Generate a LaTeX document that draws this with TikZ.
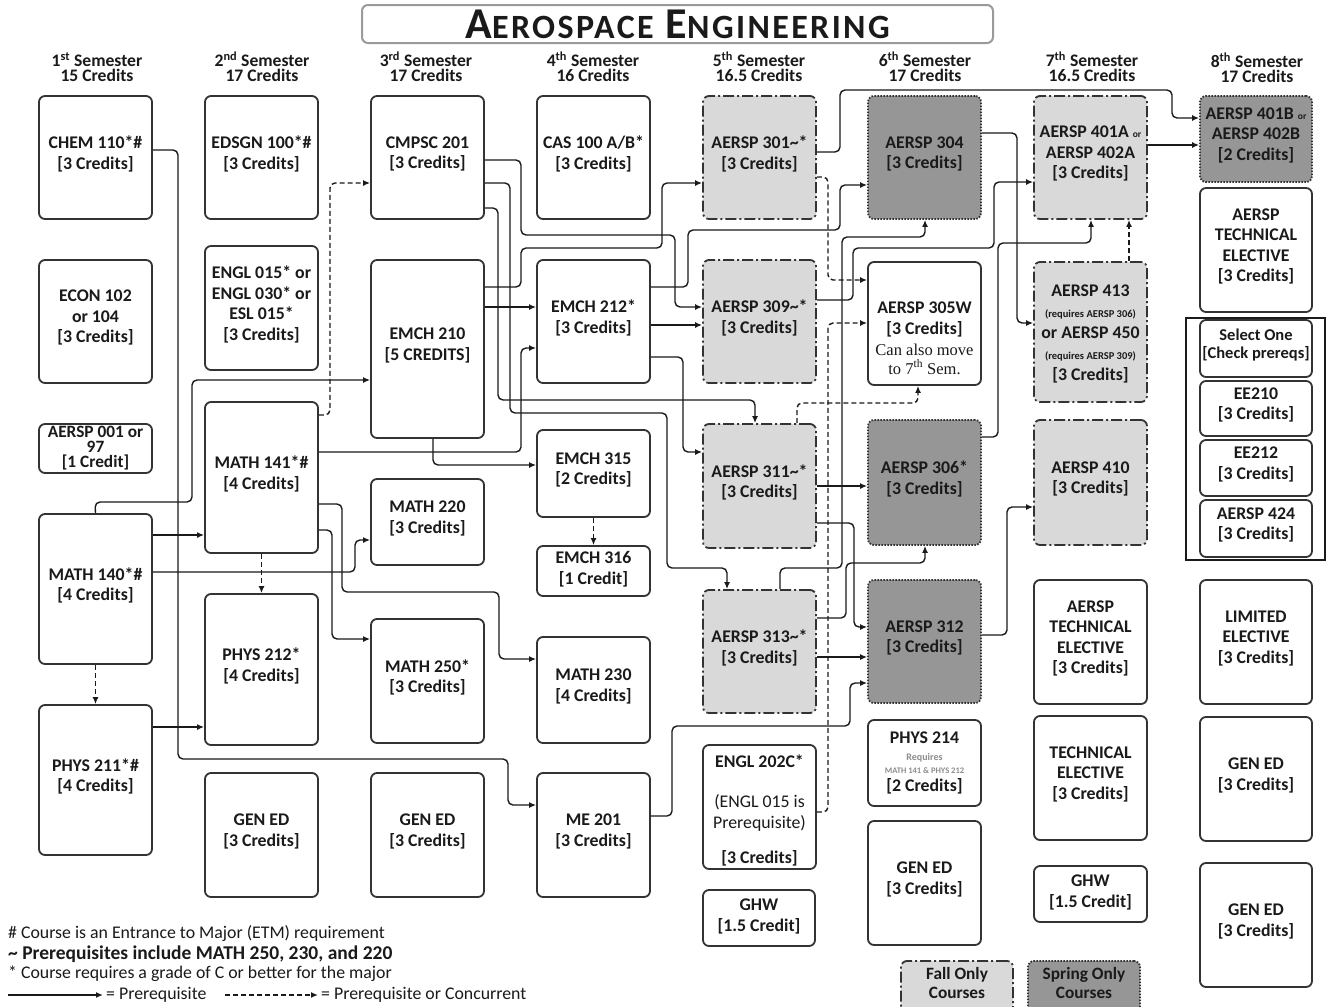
\documentclass[tikz,border=0pt]{standalone}
\usepackage{fontspec}
\setmainfont{Carlito}
\newfontfamily\timesf{Liberation Serif}
\usetikzlibrary{arrows.meta}
\definecolor{ink}{HTML}{1A1A1A}
\definecolor{bord}{HTML}{333333}
\definecolor{fallc}{HTML}{D9D9D9}
\definecolor{springc}{HTML}{969696}
\definecolor{reqgray}{HTML}{8C8C8C}
\definecolor{titleb}{HTML}{9A9A9A}
\newcommand\smallor{{\fontsize{9.5}{9}\selectfont or}}
\newcommand\reqtxt[1]{{\fontsize{10.5}{10}\selectfont #1}}
\begin{document}
\begin{tikzpicture}[x=1pt,y=-1pt,
  every node/.style={text=ink},
  box/.style={draw=bord, line width=1.8pt, rounded corners=6pt, fill=white, align=center,
     font=\fontsize{17.8}{20.5}\selectfont\bfseries, inner sep=0pt, text depth=10pt},
  fall/.style={box, fill=fallc, dash pattern=on 11pt off 3pt on 2pt off 3pt},
  spring/.style={box, fill=springc, dash pattern=on 1.6pt off 1.4pt},
  sz/.style 2 args={minimum width=#1pt, minimum height=#2pt},
  pre/.style={draw=ink, line width=1.4pt, rounded corners=5pt, -{Latex[length=7pt,width=6pt]}},
  conc/.style={pre, dash pattern=on 5pt off 3pt},
  hdr/.style={align=center, font=\fontsize{17.6}{15}\selectfont\bfseries, inner sep=0pt},
  legtxt/.style={anchor=west, inner sep=0pt, font=\fontsize{17.8}{18}\selectfont},
  plain/.style={align=center, inner sep=0pt, font=\fontsize{17.8}{21}\selectfont\bfseries},
]
\useasboundingbox (0,0) rectangle (1326,1007);
\fill[white] (0,0) rectangle (1326,1007);

% title
\node[draw=titleb, line width=2pt, rounded corners=6pt, sz={631}{38}, inner sep=0pt] (title) at (677.5,24)
  {\bfseries\addfontfeature{LetterSpace=7}{\fontsize{44}{40}\selectfont A}{\fontsize{34}{34}\selectfont EROSPACE}\hspace{12pt}{\fontsize{44}{40}\selectfont E}{\fontsize{34}{34}\selectfont NGINEERING}};

% headers
\node[hdr] (h1) at (97,67) {1\textsuperscript{st} Semester\\15 Credits};
\node[hdr] (h2) at (262,67) {2\textsuperscript{nd} Semester\\17 Credits};
\node[hdr] (h3) at (426,67) {3\textsuperscript{rd} Semester\\17 Credits};
\node[hdr] (h4) at (593,67) {4\textsuperscript{th} Semester\\16 Credits};
\node[hdr] (h5) at (759,67) {5\textsuperscript{th} Semester\\16.5 Credits};
\node[hdr] (h6) at (925,67) {6\textsuperscript{th} Semester\\17 Credits};
\node[hdr] (h7) at (1092,67) {7\textsuperscript{th} Semester\\16.5 Credits};
\node[hdr] (h8) at (1257,68) {8\textsuperscript{th} Semester\\17 Credits};

% column 1
\node[box,sz={113}{123}] (chem) at (95.5,157.5) {CHEM 110*\#\\{}[3 Credits]};
\node[box,sz={113}{123}] (econ) at (95.5,321.5) {ECON 102\\or 104\\{}[3 Credits]};
\node[box,sz={113}{49},font=\fontsize{17.3}{15}\selectfont\bfseries,text depth=3pt] (a001) at (95.5,448.5) {AERSP 001 or\\97\\{}[1 Credit]};
\node[box,sz={113}{150}] (m140) at (95.5,589) {MATH 140*\#\\{}[4 Credits]};
\node[box,sz={113}{150}] (p211) at (95.5,780) {PHYS 211*\#\\{}[4 Credits]};

% column 2
\node[box,sz={113}{123}] (edsgn) at (261.5,157.5) {EDSGN 100*\#\\{}[3 Credits]};
\node[box,sz={113}{124}] (engl015) at (261.5,308) {ENGL 015* or\\ENGL 030* or\\ESL 015*\\{}[3 Credits]};
\node[box,sz={113}{151}] (m141) at (261.5,477.5) {MATH 141*\#\\{}[4 Credits]};
\node[box,sz={113}{151}] (p212) at (261.5,669.5) {PHYS 212*\\{}[4 Credits]};
\node[box,sz={113}{124}] (ge2) at (261.5,835) {GEN ED\\{}[3 Credits]};

% column 3
\node[box,sz={113}{123}] (cmpsc) at (427.5,157.5) {CMPSC 201\\{}[3 Credits]};
\node[box,sz={113}{178}] (emch210) at (427.5,349) {EMCH 210\\{}[5 CREDITS]};
\node[box,sz={113}{86}] (m220) at (427.5,522) {MATH 220\\{}[3 Credits]};
\node[box,sz={113}{124}] (m250) at (427.5,681) {MATH 250*\\{}[3 Credits]};
\node[box,sz={113}{124}] (ge3) at (427.5,835) {GEN ED\\{}[3 Credits]};

% column 4
\node[box,sz={113}{123}] (cas) at (593.5,157.5) {CAS 100 A/B*\\{}[3 Credits]};
\node[box,sz={113}{123}] (emch212) at (593.5,321.5) {EMCH 212*\\{}[3 Credits]};
\node[box,sz={113}{87}] (emch315) at (593.5,473.5) {EMCH 315\\{}[2 Credits]};
\node[box,sz={113}{50},text depth=6pt] (emch316) at (593.5,571) {EMCH 316\\{}[1 Credit]};
\node[box,sz={113}{106}] (m230) at (593.5,690) {MATH 230\\{}[4 Credits]};
\node[box,sz={113}{124}] (me201) at (593.5,835) {ME 201\\{}[3 Credits]};

% column 5
\node[fall,sz={113}{123}] (a301) at (759.5,157.5) {AERSP 301\textasciitilde*\\{}[3 Credits]};
\node[fall,sz={113}{123}] (a309) at (759.5,321.5) {AERSP 309\textasciitilde*\\{}[3 Credits]};
\node[fall,sz={113}{124}] (a311) at (759.5,486) {AERSP 311\textasciitilde*\\{}[3 Credits]};
\node[fall,sz={113}{123}] (a313) at (759.5,651.5) {AERSP 313\textasciitilde*\\{}[3 Credits]};
\node[box,sz={113}{124}] (engl202) at (759.5,807) {};
\node[plain] (engl202t) at (759.5,810) {ENGL 202C*\\[19pt]{\mdseries (ENGL 015 is}\\{\mdseries Prerequisite)}\\[14pt]{[3 Credits]}};
\node[box,sz={112}{56},text depth=6pt] (ghw5) at (759,918) {GHW\\{}[1.5 Credit]};

% column 6
\node[spring,sz={113}{123}] (a304) at (924.5,157.5) {AERSP 304\\{}[3 Credits]};
\node[box,sz={113}{123}] (a305) at (924.5,323.5) {};
\node[plain] (a305t) at (924.5,338)
  {AERSP 305W\\{}[3 Credits]\\[0pt]{\timesf\mdseries\fontsize{16.5}{18}\selectfont Can also move}\\[-2pt]{\timesf\mdseries\fontsize{16.5}{18}\selectfont to 7\textsuperscript{th} Sem.}};
\node[spring,sz={113}{125}] (a306) at (924.5,482.5) {AERSP 306*\\{}[3 Credits]};
\node[spring,sz={113}{123}] (a312) at (924.5,641.5) {AERSP 312\\{}[3 Credits]};
\node[box,sz={113}{86}] (p214) at (924.5,763) {};
\node[plain] (p214t) at (924.5,763) {PHYS 214\\[-4pt]{\color{reqgray}\fontsize{10}{9}\selectfont Requires}\\[-8pt]{\color{reqgray}\fontsize{8.5}{8}\selectfont MATH 141 \& PHYS 212}\\[-3pt]{[2 Credits]}};
\node[box,sz={113}{124}] (ge6) at (924.5,883) {GEN ED\\{}[3 Credits]};

% column 7
\node[fall,sz={113}{123}] (a401a) at (1090.5,157.5) {AERSP 401A \smallor\\AERSP 402A\\{}[3 Credits]};
\node[fall,sz={113}{140}] (a413) at (1090.5,332) {};
\node[plain] (a413t) at (1090.5,334) {AERSP 413\\\reqtxt{(requires AERSP 306)}\\or AERSP 450\\\reqtxt{(requires AERSP 309)}\\{}[3 Credits]};
\node[fall,sz={113}{125}] (a410) at (1090.5,482.5) {AERSP 410\\{}[3 Credits]};
\node[box,sz={113}{124}] (ate7) at (1090.5,642) {AERSP\\TECHNICAL\\ELECTIVE\\{}[3 Credits]};
\node[box,sz={113}{124}] (te7) at (1090.5,778) {TECHNICAL\\ELECTIVE\\{}[3 Credits]};
\node[box,sz={113}{56},text depth=6pt] (ghw7) at (1090.5,894) {GHW\\{}[1.5 Credit]};

% column 8
\node[spring,sz={112}{86}] (a401b) at (1256,139) {AERSP 401B \smallor\\AERSP 402B\\{}[2 Credits]};
\node[box,sz={112}{124}] (ate8) at (1256,250) {AERSP\\TECHNICAL\\ELECTIVE\\{}[3 Credits]};
\node[draw=ink, line width=1.3pt, sz={139}{242}, inner sep=0pt] (selgrp) at (1255.5,439) {};
\node[box,sz={112}{57},font=\fontsize{16.5}{18}\selectfont\bfseries] (sel) at (1256,348.5) {Select One\\{}[Check prereqs]};
\node[box,sz={112}{55}] (ee210) at (1256,408.5) {EE210\\{}[3 Credits]};
\node[box,sz={112}{56}] (ee212) at (1256,468) {EE212\\{}[3 Credits]};
\node[box,sz={112}{57}] (a424) at (1256,528.5) {AERSP 424\\{}[3 Credits]};
\node[box,sz={112}{124}] (lim) at (1256,642) {LIMITED\\ELECTIVE\\{}[3 Credits]};
\node[box,sz={112}{124}] (ge8a) at (1256,779) {GEN ED\\{}[3 Credits]};
\node[box,sz={112}{124}] (ge8b) at (1256,925) {GEN ED\\{}[3 Credits]};

% legend boxes
\node[fall,sz={112}{56}] (fallkey) at (957,989) {};
\node[plain,font=\fontsize{17.3}{19}\selectfont\bfseries] (fallkeyt) at (957,983) {Fall Only\\Courses};
\node[spring,sz={112}{56}] (springkey) at (1084,989) {};
\node[plain,font=\fontsize{17.3}{19}\selectfont\bfseries] (springkeyt) at (1084,983) {Spring Only\\Courses};

% connectors
\draw[pre] (chem.east |- 0,150) -- (178,150) -- (178,759) -- (508,759) -- (508,805) -- (me201.west |- 0,805);
\draw[pre] (m140.east |- 0,535) -- (m141.west |- 0,535);
\draw[pre] (m140.north) -- (95,502) -- (192,502) -- (192,380) -- (emch210.west |- 0,380);
\draw[pre] (m140.east |- 0,572) -- (355,572) -- (355,540) -- (m220.west |- 0,540);
\draw[conc] (m140.south) -- (p211.north);
\draw[pre] (p211.east |- 0,727) -- (p212.west |- 0,727);
\draw[conc] (m141.south) -- (p212.north);
\draw[conc] (m141.east |- 0,415) -- (330,415) -- (330,183) -- (cmpsc.west |- 0,183);
\draw[pre] (m141.east |- 0,452) -- (521,452) -- (521,348) -- (emch212.west |- 0,348);
\draw[pre] (m141.east |- 0,504) -- (342,504) -- (342,592) -- (499,592) -- (499,659) -- (m230.west |- 0,659);
\draw[pre] (m141.east |- 0,530) -- (332,530) -- (332,639) -- (m250.west |- 0,639);
\draw[pre] (emch210.east |- 0,287) -- (521,287) -- (521,248) -- (662,248) -- (662,183) -- (a301.west |- 0,183);
\draw[pre] (emch210.east |- 0,307) -- (emch212.west |- 0,307);
\draw[pre] (emch210.south -| 433,0) -- (433,465) -- (emch315.west |- 0,465);
\draw[pre] (cmpsc.east |- 0,160) -- (521,160) -- (521,235) -- (675,235) -- (675,307) -- (a309.west |- 0,307);
\draw[pre] (cmpsc.east |- 0,183) -- (510,183) -- (510,413) -- (667,413) -- (667,568) -- (727,568) -- (a313.north -| 727,0);
\draw[pre] (cmpsc.east |- 0,208) -- (498,208) -- (498,400) -- (755,400) -- (a311.north -| 755,0);
\draw[pre] (emch212.east |- 0,287) -- (688,287) -- (688,230) -- (840,230) -- (840,185) -- (a304.west |- 0,185);
\draw[pre] (emch212.east |- 0,325) -- (a309.west |- 0,325);
\draw[pre] (emch212.east |- 0,357) -- (683,357) -- (683,452) -- (a311.west |- 0,452);
\draw[conc] (emch315.south) -- (emch316.north);
\draw[pre] (a301.east |- 0,152) -- (840,152) -- (840,90) -- (1172,90) -- (1172,118) -- (a401b.west |- 0,118);
\draw[conc] (a301.east |- 0,177) -- (828,177) -- (828,280) -- (a305.west |- 0,280);
\draw[conc] (engl202.east |- 0,812) -- (828,812) -- (828,323) -- (a305.west |- 0,323);
\draw[pre] (a309.east |- 0,300) -- (853,300) -- (853,248) -- (994,248) -- (994,182) -- (a401a.west |- 0,182);
\draw[conc] (a311.north -| 797,0) -- (797,403) -- (918,403) -- (a305.south -| 918,0);
\draw[pre] (a311.east |- 0,486) -- (a306.west |- 0,486);
\draw[pre] (a311.east |- 0,523) -- (854,523) -- (854,627) -- (a312.west |- 0,627);
\draw[pre] (a313.north -| 780,0) -- (780,568) -- (842,568) -- (842,237) -- (925,237) -- (a304.south -| 925,0);
\draw[pre] (a313.east |- 0,618) -- (846,618) -- (846,563) -- (925,563) -- (a306.south -| 925,0);
\draw[pre] (a313.east |- 0,657) -- (a312.west |- 0,657);
\draw[pre] (me201.east |- 0,816) -- (672,816) -- (672,726) -- (850,726) -- (850,683) -- (a312.west |- 0,683);
\draw[pre] (a304.east |- 0,133) -- (1017,133) -- (1017,323) -- (a413.west |- 0,323);
\draw[pre] (a306.east |- 0,437) -- (998,437) -- (998,243) -- (1091,243) -- (a401a.south -| 1091,0);
\draw[pre] (a312.east |- 0,635) -- (1007,635) -- (1007,507) -- (a410.west |- 0,507);
\draw[pre] (a401a.east |- 0,145) -- (a401b.west |- 0,145);
\draw[conc] (a413.north -| 1129,0) -- (a401a.south -| 1129,0);

% legend
\node[legtxt] (l1) at (8,934) {\# Course is an Entrance to Major (ETM) requirement};
\node[legtxt, font=\fontsize{19.5}{20}\selectfont\bfseries] (l2) at (8,954) {\textasciitilde\ Prerequisites include MATH 250, 230, and 220};
\node[legtxt] (l3) at (8,974) {* Course requires a grade of C or better for the major};
\coordinate (lpa) at (8,995);
\coordinate (lpb) at (103,995);
\coordinate (lca) at (225,995);
\coordinate (lcb) at (318,995);
\draw[pre] (lpa) -- (lpb);
\draw[conc] (lca) -- (lcb);
\node[legtxt] (l4) at (106,995) {= Prerequisite};
\node[legtxt] (l5) at (321,995) {= Prerequisite or Concurrent};
\end{tikzpicture}
\end{document}
